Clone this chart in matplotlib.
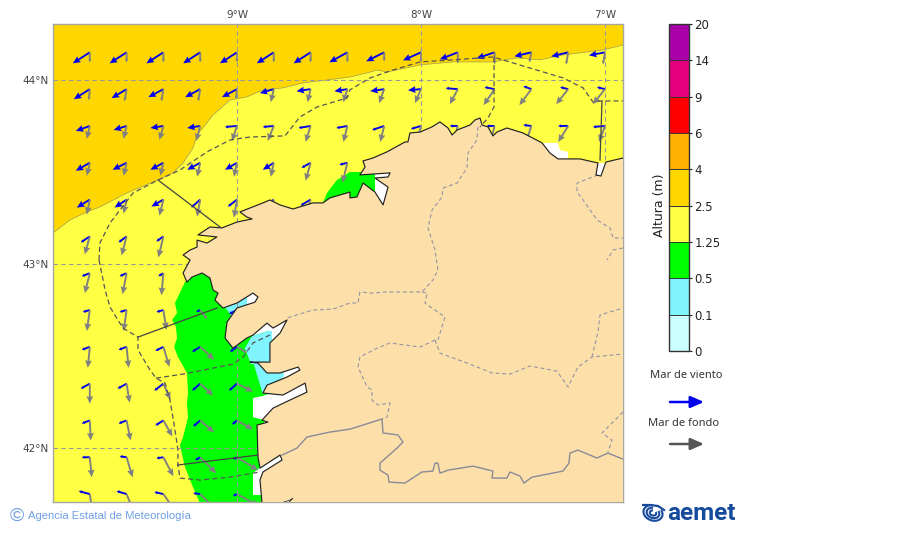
import numpy as np
import matplotlib
matplotlib.use("Agg")
import matplotlib.pyplot as plt
from matplotlib import colors, cm
from matplotlib.patches import Polygon, Arc

N = np.nan

# colour scale
LEVELS = [0, 1, 2, 3, 4, 5, 6, 7, 8, 9]
LEVEL_LABELS = ['0', '0.1', '0.5', '1.25', '2.5', '4', '6', '9', '14', '20']
LEVEL_COLORS = ['#ccffff', '#80f4ff', '#00ff00', '#ffff44', '#ffd700',
                '#ffb000', '#ff0000', '#e6007e', '#aa00aa']

# wave grid
LONS = [-9.8, -9.6, -9.4, -9.2, -9.0, -8.8, -8.6, -8.4, -8.2, -8.0, -7.8, -7.6, -7.4, -7.2, -7.0]
LATS = [44.15, 43.95, 43.75, 43.55, 43.35, 43.15, 42.95, 42.75, 42.55, 42.35, 42.15, 41.95, 41.75]

# wind sea (blue arrows), one row per latitude
WIND_U = [
    [-17, -17, -17, -17, -17, -17, -17, -18, -18, -18, -18, -18, -17, -17, -16],
    [-16, -15, -15, -15, -15, -14, -14, -13, -14, -13, -12, -10, -8, -8, -8],
    [-14, -13, -13, -13, -12, -11, -12, -11, -12, -10, -8, -8, -8, -10, -12],
    [-14, -14, -13, -13, -12, -11, -9, -8, N, N, N, N, N, N, N],
    [-13, -12, -12, -9, -9, -10, -10, N, N, N, N, N, N, N, N],
    [-9, -8, -7, N, N, N, N, N, N, N, N, N, N, N, N],
    [-8, -7, -5, N, N, N, N, N, N, N, N, N, N, N, N],
    [-7, -7, -7, -4, -8, N, N, N, N, N, N, N, N, N, N],
    [-8, -8, -8, -8, -7, N, N, N, N, N, N, N, N, N, N],
    [-9, -9, -9, -8, -8, N, N, N, N, N, N, N, N, N, N],
    [-8, -8, -8, -7, -5, N, N, N, N, N, N, N, N, N, N],
    [-8, -7, -7, -5, -4, N, N, N, N, N, N, N, N, N, N],
    [-11, -10, -9, -7, -4, N, N, N, N, N, N, N, N, N, N],
]
WIND_V = [
    [-11, -11, -11, -11, -11, -11, -11, -10, -9, -8, -7, -6, -4, -4, -3],
    [-10, -9, -8, -8, -8, -4, -2, -2, -2, -1, 1, 2, 3, 2, 2],
    [-5, -4, -2, -2, -1, -1, -2, -2, -4, -3, 0, 0, 1, 0, -1],
    [-8, -7, -7, -7, -7, -7, -5, -2, N, N, N, N, N, N, N],
    [-8, -8, -7, -8, -7, -7, -6, N, N, N, N, N, N, N, N],
    [-6, -6, -5, N, N, N, N, N, N, N, N, N, N, N, N],
    [-3, -3, -3, N, N, N, N, N, N, N, N, N, N, N, N],
    [-2, -2, -2, -2, -4, N, N, N, N, N, N, N, N, N, N],
    [-3, -3, -4, -5, -5, N, N, N, N, N, N, N, N, N, N],
    [-5, -5, -7, -7, -7, N, N, N, N, N, N, N, N, N, N],
    [-3, -3, -5, -6, -4, N, N, N, N, N, N, N, N, N, N],
    [0, 1, -1, -3, -2, N, N, N, N, N, N, N, N, N, N],
    [3, 3, 2, 1, -2, N, N, N, N, N, N, N, N, N, N],
]

# swell (grey arrows)
SWELL_U = [
    [0, 0, 0, 0, 0, 0, 0, 0, 0, 0, 0, 0, -2, -2, -2],
    [-1, -2, -2, -2, -1, -3, -3, -4, -5, -6, -8, -11, -12, -12, -12],
    [-3, -3, -4, -4, -5, -6, -5, -4, -4, -4, -4, -4, -4, -10, -6],
    [-3, -3, -3, -3, -3, -3, -5, -5, N, N, N, N, N, N, N],
    [-3, -3, -4, -3, -3, -5, -5, N, N, N, N, N, N, N, N],
    [-5, -5, -5, N, N, N, N, N, N, N, N, N, N, N, N],
    [-5, -4, -2, N, N, N, N, N, N, N, N, N, N, N, N],
    [-3, -3, 3, 7, 8, N, N, N, N, N, N, N, N, N, N],
    [-2, 2, 6, 14, 10, N, N, N, N, N, N, N, N, N, N],
    [0, 3, 7, 13, 16, N, N, N, N, N, N, N, N, N, N],
    [1, 4, 9, 14, 16, N, N, N, N, N, N, N, N, N, N],
    [2, 6, 10, 16, 21, N, N, N, N, N, N, N, N, N, N],
    [3, 8, 14, 20, 22, N, N, N, N, N, N, N, N, N, N],
]
SWELL_V = [
    [-10, -10, -10, -10, -10, -10, -10, -10, -9, -10, -11, -12, -10, -12, -12],
    [-11, -12, -12, -12, -10, -13, -13, -13, -14, -14, -15, -16, -16, -15, -15],
    [-13, -13, -14, -15, -15, -15, -16, -16, -16, -16, -16, -16, -12, -16, -16],
    [-13, -13, -13, -14, -14, -14, -18, -20, N, N, N, N, N, N, N],
    [-15, -14, -16, -17, -18, -18, -18, N, N, N, N, N, N, N, N],
    [-18, -19, -21, N, N, N, N, N, N, N, N, N, N, N, N],
    [-20, -21, -22, N, N, N, N, N, N, N, N, N, N, N, N],
    [-21, -21, -20, -9, -9, N, N, N, N, N, N, N, N, N, N],
    [-21, -21, -20, -13, -6, N, N, N, N, N, N, N, N, N, N],
    [-20, -19, -16, -12, -8, N, N, N, N, N, N, N, N, N, N],
    [-20, -20, -16, -12, -9, N, N, N, N, N, N, N, N, N, N],
    [-20, -20, -19, -16, -13, N, N, N, N, N, N, N, N, N, N],
    [-20, -20, -20, -19, -12, N, N, N, N, N, N, N, N, N, N],
]

# map outlines, (lon, lat)
COAST = [
    (-6.902, 43.576), (-6.995, 43.554), (-7.022, 43.478), (-7.049, 43.484), (-7.038, 43.549),
    (-7.136, 43.571), (-7.255, 43.571), (-7.299, 43.603), (-7.342, 43.658), (-7.446, 43.712),
    (-7.533, 43.739), (-7.587, 43.717), (-7.609, 43.696), (-7.636, 43.745), (-7.668, 43.755),
    (-7.679, 43.793), (-7.706, 43.783), (-7.734, 43.755), (-7.804, 43.728), (-7.831, 43.701),
    (-7.853, 43.739), (-7.897, 43.772), (-7.940, 43.745), (-8.005, 43.717), (-8.060, 43.712),
    (-8.071, 43.663), (-8.087, 43.663), (-8.185, 43.609), (-8.261, 43.576), (-8.315, 43.560),
    (-8.304, 43.527), (-8.332, 43.484), (-8.168, 43.495), (-8.179, 43.473), (-8.250, 43.467),
    (-8.179, 43.418), (-8.206, 43.321), (-8.250, 43.391), (-8.315, 43.440), (-8.348, 43.364),
    (-8.386, 43.359), (-8.386, 43.391), (-8.495, 43.359), (-8.533, 43.332), (-8.587, 43.332),
    (-8.696, 43.299), (-8.766, 43.321), (-8.821, 43.348), (-8.859, 43.332), (-8.984, 43.283),
    (-8.946, 43.255), (-8.918, 43.245), (-9.000, 43.228), (-9.082, 43.196), (-9.147, 43.201),
    (-9.212, 43.158), (-9.109, 43.147), (-9.163, 43.114), (-9.217, 43.130), (-9.217, 43.092),
    (-9.255, 43.076), (-9.293, 43.049), (-9.255, 43.022), (-9.293, 42.951), (-9.272, 42.902),
    (-9.245, 42.929), (-9.190, 42.951), (-9.147, 42.924), (-9.130, 42.859), (-9.103, 42.842),
    (-9.120, 42.804), (-9.076, 42.761), (-9.000, 42.788), (-8.913, 42.842), (-8.886, 42.821),
    (-8.902, 42.793), (-9.000, 42.761), (-9.054, 42.685), (-9.065, 42.598), (-9.022, 42.543),
    (-8.946, 42.598), (-8.913, 42.614), (-8.837, 42.679), (-8.804, 42.652), (-8.728, 42.696),
    (-8.766, 42.625), (-8.821, 42.571), (-8.821, 42.467), (-8.929, 42.467), (-8.886, 42.462),
    (-8.837, 42.408), (-8.766, 42.408), (-8.668, 42.440), (-8.658, 42.424), (-8.728, 42.386),
    (-8.837, 42.342), (-8.859, 42.299), (-8.750, 42.288), (-8.630, 42.353), (-8.620, 42.304),
    (-8.712, 42.261), (-8.804, 42.217), (-8.864, 42.152), (-8.832, 42.141), (-8.891, 42.125),
    (-8.886, 41.951), (-8.875, 41.891), (-8.766, 41.962), (-8.755, 41.935), (-8.859, 41.870),
    (-8.875, 41.826), (-8.864, 41.700),
]
LAND_CORNERS = [(-6.85, 41.65), (-6.85, 43.576)]
MINHO_BAY = [(-8.766, 41.700), (-8.712, 41.717), (-8.696, 41.728), (-8.723, 41.700)]

GOLD_EDGE = [
    (-10.0, 43.168), (-9.908, 43.239), (-9.815, 43.283), (-9.745, 43.310), (-9.598, 43.386),
    (-9.457, 43.446), (-9.348, 43.495), (-9.293, 43.549), (-9.239, 43.630), (-9.217, 43.701),
    (-9.130, 43.810), (-9.038, 43.891), (-8.946, 43.908), (-8.859, 43.946), (-8.750, 43.957),
    (-8.641, 43.984), (-8.511, 44.000), (-8.386, 44.016), (-8.293, 44.038), (-8.239, 44.054),
    (-8.185, 44.043), (-8.005, 44.082), (-7.826, 44.098), (-7.609, 44.098), (-7.478, 44.120),
    (-7.353, 44.109), (-7.228, 44.136), (-7.011, 44.163), (-6.902, 44.190), (-6.85, 44.35),
    (-10.05, 44.35),
]
GREEN_SOUTH = [
    (-9.283, 42.902), (-9.321, 42.821), (-9.337, 42.788), (-9.326, 42.734), (-9.353, 42.696),
    (-9.332, 42.658), (-9.326, 42.598), (-9.342, 42.549), (-9.321, 42.495), (-9.272, 42.408),
    (-9.266, 42.299), (-9.272, 42.245), (-9.266, 42.168), (-9.293, 42.060), (-9.310, 42.016),
    (-9.283, 41.897), (-9.239, 41.788), (-9.201, 41.700), (-8.5, 41.700), (-8.5, 42.97), (-9.2, 42.97),
]
GREEN_NORTH = [
    (-8.533, 43.332), (-8.511, 43.386), (-8.457, 43.456), (-8.386, 43.500), (-8.332, 43.500),
    (-8.250, 43.500), (-8.250, 43.300), (-8.533, 43.300),
]
WHITE_AREAS = [
    [(-8.250, 43.300), (-8.150, 43.300), (-8.150, 43.510), (-8.250, 43.510)],
    [(-7.337, 43.658), (-7.255, 43.658), (-7.245, 43.620), (-7.201, 43.609), (-7.201, 43.565), (-7.299, 43.565)],
    [(-7.060, 43.470), (-6.980, 43.470), (-6.980, 43.550), (-7.060, 43.550)],
    [(-8.913, 42.272), (-8.859, 42.283), (-8.603, 42.380), (-8.603, 42.277), (-8.848, 42.109), (-8.853, 42.152), (-8.913, 42.168)],
    [(-8.777, 42.451), (-8.647, 42.451), (-8.647, 42.413), (-8.777, 42.370)],
    [(-8.918, 42.609), (-8.848, 42.696), (-8.701, 42.723), (-8.793, 42.560), (-8.832, 42.636)],
    [(-8.946, 42.859), (-8.864, 42.859), (-8.864, 42.777), (-8.946, 42.777)],
    [(-8.913, 41.864), (-8.864, 41.902), (-8.712, 41.989), (-8.712, 41.908), (-8.848, 41.745), (-8.913, 41.745)],
]
CYAN_AREAS = [
    [(-8.913, 42.473), (-8.745, 42.473), (-8.745, 42.391), (-8.837, 42.304), (-8.859, 42.293), (-8.886, 42.380)],
    [(-8.957, 42.543), (-8.918, 42.609), (-8.832, 42.636), (-8.810, 42.636), (-8.810, 42.456), (-8.924, 42.456)],
    [(-9.065, 42.766), (-9.027, 42.804), (-8.946, 42.821), (-8.946, 42.777), (-9.022, 42.707)],
]

ZONE_DASHED = [
    [(-9.750, 43.022), (-9.745, 43.114), (-9.690, 43.223), (-9.565, 43.386), (-9.429, 43.456),
     (-9.310, 43.511), (-9.163, 43.609), (-9.038, 43.674), (-8.929, 43.690), (-8.739, 43.696),
     (-8.658, 43.799), (-8.565, 43.853), (-8.402, 43.902), (-8.386, 43.946), (-8.277, 44.011),
     (-8.152, 44.054), (-8.005, 44.098), (-7.826, 44.109), (-7.609, 44.125), (-7.408, 44.065),
     (-7.228, 44.011), (-7.119, 43.957), (-7.065, 43.880), (-7.016, 43.886), (-6.902, 43.886)],
    [(-9.750, 43.022), (-9.717, 42.859), (-9.690, 42.766), (-9.620, 42.652), (-9.538, 42.603),
     (-9.538, 42.533), (-9.473, 42.424), (-9.440, 42.380), (-9.391, 42.353), (-9.364, 42.261),
     (-9.337, 42.098), (-9.321, 41.989), (-9.321, 41.908), (-9.310, 41.837), (-9.201, 41.826),
     (-9.038, 41.842), (-8.875, 41.870)],
    [(-9.440, 42.380), (-9.293, 42.402), (-9.022, 42.456), (-8.967, 42.495), (-8.913, 42.571), (-8.821, 42.614)],
    [(-7.603, 44.125), (-7.603, 43.853), (-7.636, 43.793), (-7.679, 43.745)],
]
ZONE_SOLID = [
    [(-9.429, 43.456), (-9.092, 43.201)],
    [(-9.538, 42.603), (-9.109, 42.761)],
    [(-9.321, 41.908), (-8.886, 41.962)],
    [(-7.016, 43.886), (-7.027, 43.565)],
]
PROVINCES = [
    [(-7.690, 43.745), (-7.696, 43.674), (-7.745, 43.603), (-7.750, 43.522), (-7.804, 43.440),
     (-7.880, 43.413), (-7.886, 43.364), (-7.940, 43.293), (-7.962, 43.196), (-7.924, 43.076),
     (-7.908, 42.967), (-7.935, 42.913), (-7.995, 42.848), (-8.185, 42.848), (-8.266, 42.842),
     (-8.332, 42.848), (-8.342, 42.788), (-8.386, 42.788), (-8.478, 42.755), (-8.587, 42.750), (-8.728, 42.707)],
    [(-7.995, 42.848), (-7.967, 42.842), (-7.978, 42.788), (-7.870, 42.712), (-7.908, 42.587),
     (-7.924, 42.587), (-8.005, 42.549), (-8.168, 42.571), (-8.239, 42.543), (-8.332, 42.495),
     (-8.342, 42.440), (-8.293, 42.332), (-8.266, 42.315), (-8.266, 42.261), (-8.234, 42.234),
     (-8.168, 42.245), (-8.185, 42.168), (-8.212, 42.158)],
    [(-7.924, 42.587), (-7.897, 42.516), (-7.750, 42.462), (-7.614, 42.408), (-7.516, 42.402),
     (-7.408, 42.446), (-7.261, 42.418), (-7.201, 42.332), (-7.147, 42.440), (-7.071, 42.495), (-6.902, 42.511)],
    [(-7.071, 42.495), (-7.038, 42.630), (-7.027, 42.723), (-6.902, 42.761)],
    [(-7.038, 43.484), (-7.152, 43.440), (-7.152, 43.391), (-7.119, 43.348), (-7.043, 43.239),
     (-6.973, 43.196), (-6.956, 43.141), (-6.902, 43.141)],
    [(-6.902, 43.087), (-6.956, 43.076), (-6.989, 43.022)],
    [(-6.902, 42.196), (-7.016, 42.082), (-6.962, 42.043), (-6.984, 41.978)],
]
BORDER = [
    (-8.755, 41.962), (-8.674, 42.000), (-8.620, 42.060), (-8.495, 42.087), (-8.386, 42.103),
    (-8.315, 42.125), (-8.212, 42.158), (-8.206, 42.082), (-8.125, 42.071), (-8.098, 42.033),
    (-8.130, 42.000), (-8.223, 41.918), (-8.223, 41.880), (-8.179, 41.853), (-8.174, 41.815),
    (-8.087, 41.810), (-7.995, 41.870), (-7.935, 41.875), (-7.924, 41.918), (-7.908, 41.918),
    (-7.897, 41.864), (-7.853, 41.880), (-7.717, 41.902), (-7.609, 41.875), (-7.614, 41.837),
    (-7.533, 41.837), (-7.516, 41.870), (-7.462, 41.848), (-7.440, 41.810), (-7.397, 41.842),
    (-7.228, 41.875), (-7.196, 41.918), (-7.190, 41.973), (-7.147, 41.989), (-7.043, 41.946),
    (-6.984, 41.973), (-6.902, 41.940),
]


def polyline(ax, pts, **kw):
    a = np.array(pts)
    ax.plot(a[:, 0], a[:, 1], **kw)


def arrows(ax, X, Y, U, V, col, z):
    # short arrows in the original are nearly plain strokes, so they get a very small head
    U = np.array(U, dtype=float)
    V = np.array(V, dtype=float)
    short = np.hypot(U, V) < 13
    base = dict(angles='xy', scale_units='xy', scale=184.0, units='dots', width=1.9,
                minlength=0, pivot='tail', color=col, zorder=z)
    ax.quiver(X, Y, np.where(short, N, U), np.where(short, N, V),
              headwidth=3.6, headlength=4.0, headaxislength=3.6, **base)
    ax.quiver(X, Y, np.where(short, U, N), np.where(short, V, N),
              headwidth=1.8, headlength=1.6, headaxislength=1.5, minshaft=0.5, **base)


W, H = 900.0, 533.0
fig = plt.figure(figsize=(9, 5.33), dpi=100)
ax = fig.add_axes([53 / W, 1 - 502 / H, 570 / W, 478 / H])
ax.set_xlim(-10.0, -6.902)
ax.set_ylim(41.707, 44.304)
ax.set_facecolor(LEVEL_COLORS[3])

ax.add_patch(Polygon(GOLD_EDGE, fc=LEVEL_COLORS[4], ec='#a09a50', lw=0.5, zorder=1))
ax.add_patch(Polygon(GREEN_SOUTH, fc=LEVEL_COLORS[2], ec='none', zorder=1))
ax.add_patch(Polygon(GREEN_NORTH, fc=LEVEL_COLORS[2], ec='none', zorder=1))
for p in WHITE_AREAS:
    ax.add_patch(Polygon(p, fc='white', ec='none', zorder=1.1))
for p in CYAN_AREAS:
    ax.add_patch(Polygon(p, fc=LEVEL_COLORS[1], ec='none', zorder=1.2))

X, Y = np.meshgrid(LONS, LATS)
arrows(ax, X, Y, WIND_U, WIND_V, '#0000ee', 2)
arrows(ax, X, Y, SWELL_U, SWELL_V, '#808080', 2.1)

ax.add_patch(Polygon(COAST + LAND_CORNERS, fc='#fddfa9', ec='none', zorder=3))
ax.add_patch(Polygon(MINHO_BAY, fc='white', ec='#333333', lw=0.6, zorder=3.1))

for line in PROVINCES:
    polyline(ax, line, color='#9494a4', lw=0.8, ls=(0, (3.5, 2.5)), zorder=3.2)
polyline(ax, BORDER, color='#8a8a98', lw=1.0, zorder=3.2)
polyline(ax, COAST, color='#222222', lw=0.85, zorder=3.5)
for line in ZONE_DASHED:
    polyline(ax, line, color='#555555', lw=0.9, ls=(0, (4, 2.5)), zorder=3.6)
for line in ZONE_SOLID:
    polyline(ax, line, color='#444444', lw=0.9, zorder=3.6)

ax.set_xticks([-9, -8, -7])
ax.set_xticklabels(['9°W', '8°W', '7°W'])
ax.set_yticks([44, 43, 42])
ax.set_yticklabels(['44°N', '43°N', '42°N'])
ax.tick_params(top=True, labeltop=True, bottom=False, labelbottom=False, length=0,
               pad=3, labelsize=7.5, labelcolor='#444444')
ax.grid(True, color='#999999', lw=0.8, ls=(0, (4, 3)), zorder=4)
ax.set_axisbelow(False)
for s in ax.spines.values():
    s.set_color('#a8a8a0')
    s.set_linewidth(1.0)

# colour bar
cax = fig.add_axes([669 / W, 1 - 351 / H, 20 / W, 327 / H])
cmap = colors.ListedColormap(LEVEL_COLORS)
norm = colors.BoundaryNorm(LEVELS, cmap.N)
cb = fig.colorbar(cm.ScalarMappable(norm=norm, cmap=cmap), cax=cax, ticks=LEVELS, drawedges=True)
cb.set_ticklabels(LEVEL_LABELS)
cb.ax.tick_params(labelsize=8.5, length=2.5, width=0.8, pad=1.5, colors='#222222')
cb.outline.set_edgecolor('#333333')
cb.outline.set_linewidth(1.0)
cb.dividers.set_color('#333333')
cb.dividers.set_linewidth(0.7)
fig.text(659 / W, 1 - 205 / H, 'Altura (m)', rotation=90, ha='center', va='center',
         fontsize=9, color='#222222')

# arrow key
fig.text(686 / W, 1 - 376 / H, 'Mar de viento', ha='center', va='center', fontsize=8,
         family='Noto Sans', color='#333333')
fig.text(684 / W, 1 - 423 / H, 'Mar de fondo', ha='center', va='center', fontsize=8,
         family='Noto Sans', color='#333333')
for y, col in ((402, '#0000ee'), (444, '#555555')):
    ax.annotate('', xy=(704 / W, 1 - y / H), xytext=(670 / W, 1 - y / H), xycoords='figure fraction',
                textcoords='figure fraction', annotation_clip=False,
                arrowprops=dict(arrowstyle='-|>,head_length=0.8,head_width=0.35', color=col, lw=1.8,
                                shrinkA=0, shrinkB=0))

# footer
fig.text(16.5 / W, 1 - 516 / H, '©', ha='center', va='center', fontsize=14,
         family='Liberation Sans', color='#6f9fe6')
fig.text(28 / W, 1 - 516 / H, 'Agencia Estatal de Meteorología', ha='left', va='center', fontsize=8.1,
         family='Liberation Sans', color='#6f9fe6')
fig.text(667 / W, 1 - 513 / H, 'aemet', ha='left', va='center', fontsize=17.5, fontweight='bold',
         family='Roboto', color='#164a9c')

# logo swirl
logo = fig.add_axes([642 / W, 1 - 525 / H, 24 / W, 22 / H])
logo.set_xlim(0, 24)
logo.set_ylim(0, 22)
logo.axis('off')
for r in (5, 10, 15):
    logo.add_patch(Arc((11, 12), r * 1.3, r, angle=-20, theta1=110, theta2=400, color='#164a9c', lw=1.5))
logo.plot([1, 8, 16, 22], [20, 20, 19, 15], color='#164a9c', lw=1.6)

plt.savefig('out.png', dpi=100)
